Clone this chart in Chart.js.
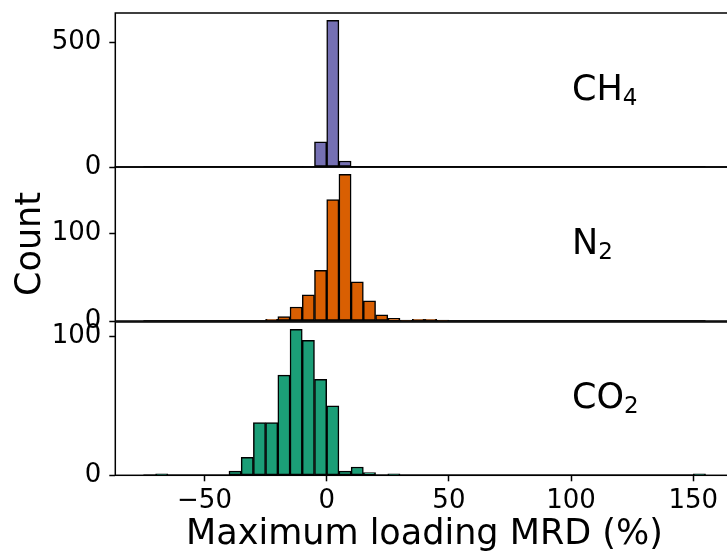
<!DOCTYPE html>
<html>
<head>
<meta charset="utf-8">
<script src="https://cdn.jsdelivr.net/npm/chart.js@4.4.0/dist/chart.umd.min.js"></script>
<style>
  html, body { margin: 0; padding: 0; background: #fff; }
  #fig { position: relative; width: 727px; height: 552px; overflow: hidden; }
  #fig canvas { position: absolute; left: 0; }
</style>
</head>
<body>
<div id="fig">
  <canvas id="ch4" width="760" height="185" style="top:0px"></canvas>
  <canvas id="n2" width="760" height="190" style="top:150px"></canvas>
  <canvas id="co2" width="760" height="252" style="top:300px"></canvas>
</div>
<script>
// histogram bins (left edges, width 5)
const binStarts = [-75, -70, -65, -60, -55, -50, -45, -40, -35, -30, -25, -20, -15, -10, -5,
                   0, 5, 10, 15, 20, 25, 30, 35, 40, 45, 50, 55, 60, 65, 70, 75, 80, 85, 90,
                   95, 100, 105, 110, 115, 120, 125, 130, 135, 140, 145, 150];
const binWidth = 5;

const ch4Counts = [0, 0, 0, 0, 0, 0, 0, 0, 0, 0, 0, 0, 0, 3, 101,
                   590, 24, 0, 0, 0, 0, 0, 0, 0, 0, 0, 0, 0, 0, 0, 0, 0, 0, 0,
                   0, 0, 0, 0, 0, 0, 0, 0, 0, 0, 0, 0];
const n2Counts  = [0, 0, 0, 0, 0, 0, 0, 0, 0, 0, 2, 5, 16, 30, 58,
                   139, 168, 45, 23, 7, 3, 1, 2, 2, 1, 0, 0, 0, 0, 0, 0, 0, 0, 0,
                   0, 0, 0, 0, 0, 0, 0, 0, 0, 0, 0, 0];
const co2Counts = [0, 1, 0, 0, 0, 0, 0, 3, 13, 38, 38, 72, 105, 97, 69,
                   50, 3, 6, 2, 0, 1, 0, 0, 0, 0, 0, 0, 0, 0, 0, 0, 0, 0, 0,
                   0, 0, 0, 0, 0, 0, 0, 0, 0, 0, 0, 1];

const xTicks = [-50, 0, 50, 100, 150];
const ch4Ticks = [0, 500];
const n2Ticks = [0, 100];
const co2Ticks = [0, 100];

const FONT = "'DejaVu Sans', sans-serif";
const AREA_LEFT = 115.3;
const AREA_RIGHT = 733.6;
const CANVAS_W = 760;
const X_MIN = -86.5, X_MAX = 166.5;

// box around each panel, drawn over the bars like matplotlib spines
const framePlugin = {
  id: 'frame',
  afterDraw(chart) {
    const { ctx, chartArea: a } = chart;
    ctx.save();
    ctx.strokeStyle = '#000';
    ctx.lineWidth = 1.5;
    ctx.strokeRect(a.left, a.top, a.right - a.left, a.bottom - a.top);
    ctx.restore();
  }
};

// gas name with subscript, placed in axes fraction
const gasLabel = {
  id: 'gasLabel',
  afterDraw(chart, args, opts) {
    const { ctx, chartArea: a } = chart;
    const x = a.left + 0.7386 * (a.right - a.left);
    const y = a.top + 0.564 * (a.bottom - a.top);
    ctx.save();
    ctx.fillStyle = '#000';
    ctx.textAlign = 'left';
    ctx.textBaseline = 'alphabetic';
    ctx.font = '35px ' + FONT;
    ctx.fillText(opts.main, x, y);
    const w = ctx.measureText(opts.main).width;
    ctx.font = '23px ' + FONT;
    ctx.fillText(opts.sub, x + w, y + 5);
    ctx.restore();
  }
};

function makePanel(id, counts, color, yTicks, main, sub, o) {
  const yMax = Math.max(...counts) * 1.05;
  const xScale = {
    type: 'linear',
    min: X_MIN,
    max: X_MAX,
    offset: false,
    display: o.showX,
    afterBuildTicks: s => { s.ticks = xTicks.map(v => ({ value: v })); },
    afterFit: s => {
      if (o.showX) s.height = o.xHeight;
      s.paddingLeft = 0; s.paddingRight = 0;
    },
    grid: { display: true, drawOnChartArea: false, drawTicks: true, tickLength: 6,
            tickColor: '#000', tickWidth: 1.5, offset: false },
    border: { display: false },
    ticks: { color: '#000', font: { family: FONT, size: 26 }, padding: 4,
             maxRotation: 0, autoSkip: false,
             callback: v => String(v).replace('-', '\u2212') },
    title: { display: o.showX, text: 'Maximum loading MRD (%)', color: '#000',
             font: { family: FONT, size: 35, lineHeight: 1 }, padding: 0 }
  };

  return new Chart(document.getElementById(id), {
    type: 'bar',
    data: {
      datasets: [
        {
          type: 'bar',
          data: binStarts.map((s, i) => ({ x: s + binWidth / 2, y: counts[i] })),
          backgroundColor: color,
          borderColor: '#000',
          borderWidth: 1.5,
          borderSkipped: false,
          barPercentage: 1,
          categoryPercentage: 1
        },
        {
          type: 'line',
          data: [{ x: binStarts[0], y: 0 },
                 { x: binStarts[binStarts.length - 1] + binWidth, y: 0 }],
          borderColor: '#000',
          borderWidth: 1.5,
          pointRadius: 0
        }
      ]
    },
    options: {
      responsive: false,
      animation: false,
      devicePixelRatio: 1,
      layout: { padding: { left: 0, right: CANVAS_W - AREA_RIGHT, top: o.top, bottom: o.bottom } },
      plugins: {
        legend: { display: false },
        tooltip: { enabled: false },
        gasLabel: { main: main, sub: sub }
      },
      scales: {
        x: xScale,
        y: {
          type: 'linear',
          min: 0,
          max: yMax,
          afterBuildTicks: s => { s.ticks = yTicks.map(v => ({ value: v })); },
          afterFit: s => {
            s.width = AREA_LEFT;
            s.paddingTop = 0; s.paddingBottom = 0;
          },
          grid: { display: true, drawOnChartArea: false, drawTicks: true, tickLength: 6,
                  tickColor: '#000', tickWidth: 1.5 },
          border: { display: false },
          ticks: { color: '#000', font: { family: FONT, size: 26 }, padding: 8 },
          title: { display: !!o.yTitle, text: o.yTitle || '', color: '#000',
                   font: { family: FONT, size: 35, lineHeight: 1 },
                   padding: { top: 13, bottom: 0 } }
        }
      }
    },
    plugins: [framePlugin, gasLabel]
  });
}

makePanel('ch4', ch4Counts, '#7570b3', ch4Ticks, 'CH', '4', { top: 13, bottom: 18, showX: false });
makePanel('n2', n2Counts, '#d95f02', n2Ticks, 'N', '2', { top: 17, bottom: 19, showX: false, yTitle: 'Count' });
makePanel('co2', co2Counts, '#1b9e77', co2Ticks, 'CO', '2', { top: 22, bottom: 0, showX: true, xHeight: 76.7 });
</script>
</body>
</html>
